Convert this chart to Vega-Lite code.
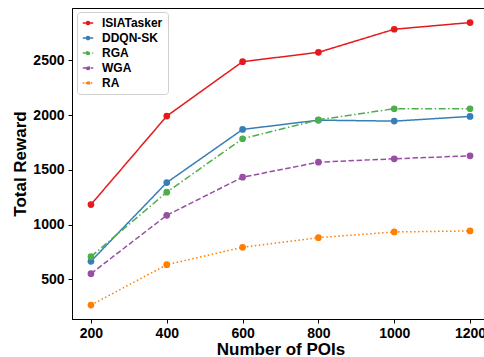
{
  "$schema": "https://vega.github.io/schema/vega-lite/v6.json",
  "width": 417,
  "height": 311,
  "autosize": "none",
  "padding": {"left": 72, "top": 8, "right": 0, "bottom": 38},
  "background": "white",
  "config": {
    "view": {"stroke": "black", "strokeWidth": 1},
    "font": "Liberation Sans",
    "axis": {
      "grid": false,
      "domainColor": "black",
      "tickColor": "black",
      "tickSize": 4,
      "labelFont": "Liberation Sans",
      "labelFontWeight": "bold",
      "labelFontSize": 14,
      "labelColor": "black",
      "titleFont": "Liberation Sans",
      "titleFontWeight": "bold",
      "titleFontSize": 17,
      "titleColor": "black"
    }
  },
  "data": {
    "values": [
      {"method": "ISIATasker", "pois": 200, "reward": 1183},
      {"method": "ISIATasker", "pois": 400, "reward": 1991},
      {"method": "ISIATasker", "pois": 600, "reward": 2488},
      {"method": "ISIATasker", "pois": 800, "reward": 2573},
      {"method": "ISIATasker", "pois": 1000, "reward": 2784},
      {"method": "ISIATasker", "pois": 1200, "reward": 2845},
      {"method": "DDQN-SK", "pois": 200, "reward": 665},
      {"method": "DDQN-SK", "pois": 400, "reward": 1384},
      {"method": "DDQN-SK", "pois": 600, "reward": 1869},
      {"method": "DDQN-SK", "pois": 800, "reward": 1954},
      {"method": "DDQN-SK", "pois": 1000, "reward": 1945},
      {"method": "DDQN-SK", "pois": 1200, "reward": 1988},
      {"method": "RGA", "pois": 200, "reward": 707},
      {"method": "RGA", "pois": 400, "reward": 1296},
      {"method": "RGA", "pois": 600, "reward": 1784},
      {"method": "RGA", "pois": 800, "reward": 1957},
      {"method": "RGA", "pois": 1000, "reward": 2058},
      {"method": "RGA", "pois": 1200, "reward": 2058},
      {"method": "WGA", "pois": 200, "reward": 552},
      {"method": "WGA", "pois": 400, "reward": 1085},
      {"method": "WGA", "pois": 600, "reward": 1433},
      {"method": "WGA", "pois": 800, "reward": 1570},
      {"method": "WGA", "pois": 1000, "reward": 1601},
      {"method": "WGA", "pois": 1200, "reward": 1628},
      {"method": "RA", "pois": 200, "reward": 265},
      {"method": "RA", "pois": 400, "reward": 634},
      {"method": "RA", "pois": 600, "reward": 793},
      {"method": "RA", "pois": 800, "reward": 881},
      {"method": "RA", "pois": 1000, "reward": 933},
      {"method": "RA", "pois": 1200, "reward": 942}
    ]
  },
  "encoding": {
    "x": {
      "field": "pois", "type": "quantitative",
      "scale": {"domain": [150, 1250], "nice": false, "zero": false},
      "axis": {"values": [200, 400, 600, 800, 1000, 1200], "format": "d", "title": "Number of POIs", "labelPadding": 3, "titlePadding": 1}
    },
    "y": {
      "field": "reward", "type": "quantitative",
      "scale": {"domain": [138, 2978], "nice": false, "zero": false},
      "axis": {"values": [500, 1000, 1500, 2000, 2500], "format": "d", "title": "Total Reward", "labelPadding": 4, "titlePadding": 3}
    },
    "color": {
      "field": "method", "type": "nominal",
      "scale": {
        "domain": ["ISIATasker", "DDQN-SK", "RGA", "WGA", "RA"],
        "range": ["#e41a1c", "#377eb8", "#4daf4a", "#984ea3", "#ff7f00"]
      },
      "legend": {
        "title": null,
        "orient": "none",
        "legendX": 5,
        "legendY": 4,
        "padding": 5,
        "fillColor": "white",
        "strokeColor": "#d0d0d0",
        "cornerRadius": 3,
        "labelFont": "Liberation Sans",
        "labelFontWeight": "bold",
        "labelFontSize": 12,
        "labelColor": "black",
        "labelOffset": 8,
        "rowPadding": 3,
        "symbolType": "M-1,0H1M0.3,0A0.3,0.3 0 1,1 -0.3,0A0.3,0.3 0 1,1 0.3,0",
        "symbolSize": 110,
        "symbolStrokeWidth": 1.5
      }
    }
  },
  "layer": [
    {
      "mark": {"type": "line", "strokeWidth": 1.5},
      "encoding": {
        "strokeDash": {
          "field": "method", "type": "nominal",
          "scale": {
            "domain": ["ISIATasker", "DDQN-SK", "RGA", "WGA", "RA"],
            "range": [[1, 0], [1, 0], [7, 2.5, 1.5, 2.5], [5.5, 2.5], [1.5, 2.5]]
          },
          "legend": {
            "title": null,
            "orient": "none",
            "legendX": 5,
            "legendY": 4,
            "symbolType": "M-1,0H1M0.3,0A0.3,0.3 0 1,1 -0.3,0A0.3,0.3 0 1,1 0.3,0"
          }
        }
      }
    },
    {
      "mark": {"type": "point", "filled": true, "opacity": 1, "size": 45}
    }
  ]
}
